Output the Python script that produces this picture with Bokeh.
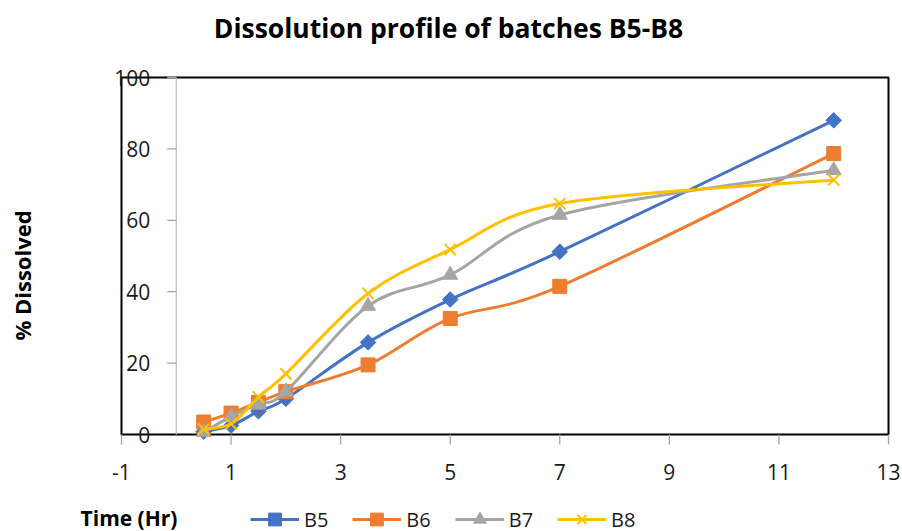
import numpy as np
from bokeh.plotting import figure
from bokeh.models import (Label, LabelSet, ColumnDataSource, Legend, LegendItem)
from bokeh.core.properties import value
from bokeh.embed import file_html
from bokeh.resources import INLINE

# ---- data ----
time_hr = [0.5, 1, 1.5, 2, 3.5, 5, 7, 12]
series_names = ["B5", "B6", "B7", "B8"]
b5 = [0.8, 2.5, 6.5, 10, 25.8, 37.8, 51.2, 88]
b6 = [3.5, 6, 9, 12, 19.5, 32.5, 41.5, 78.7]
b7 = [0.7, 5, 8.5, 12, 36, 44.7, 61.5, 74]
b8 = [1.5, 3, 10.5, 17, 39.5, 51.8, 64.7, 71.3]
x_ticks = [-1, 1, 3, 5, 7, 9, 11, 13]
y_ticks = [0, 20, 40, 60, 80, 100]
x_lim = (-1, 13)
y_lim = (0, 100)

colors = ["#4472C4", "#ED7D31", "#A5A5A5", "#FFC000"]
FONT = "Open Sans"

# ---- layout: where the chart box sits in the 902x531 canvas (pixels) ----
W, H = 902, 531
BOX_L, BOX_R, BOX_T, BOX_B = 121, 888, 77, 434
kx = (BOX_R - BOX_L) / (x_lim[1] - x_lim[0])
ky = (BOX_B - BOX_T) / (y_lim[1] - y_lim[0])
x_start = x_lim[0] - BOX_L / kx
y_start = y_lim[0] - (H - BOX_B) / ky

p = figure(width=W, height=H, output_backend="svg", toolbar_location=None,
           x_range=(x_start, x_start + W / kx), y_range=(y_start, y_start + H / ky),
           x_axis_location=None, y_axis_location=None, min_border=0)
p.title.visible = False
p.grid.visible = False
p.outline_line_color = None
p.background_fill_color = "white"
p.border_fill_color = "white"

# chart box
p.quad(left=[x_lim[0]], right=[x_lim[1]], bottom=[y_lim[0]], top=[y_lim[1]],
       fill_color=None, line_color="black", line_width=2)

# horizontal axis: ticks + labels
p.ray(x=x_ticks, y=[0] * len(x_ticks), length=10, length_units="screen",
      angle=-np.pi / 2, line_color="#A6A6A6", line_width=1.3)
xsrc = ColumnDataSource(dict(x=x_ticks, y=[0] * len(x_ticks), t=[str(v) for v in x_ticks]))
p.add_layout(LabelSet(x="x", y="y", text="t", source=xsrc, y_offset=-37,
                      text_align="center", text_baseline="middle",
                      text_font=value(FONT), text_font_size=value("21px"),
                      text_color="#1a1a1a"))

# vertical axis crossing at x = 0
p.segment(x0=[0], y0=[y_lim[0]], x1=[0], y1=[y_lim[1]], line_color="#BFBFBF", line_width=1.3)
p.ray(x=[0] * len(y_ticks[1:]), y=y_ticks[1:], length=9, length_units="screen",
      angle=np.pi, line_color="#A6A6A6", line_width=1.3)
ysrc = ColumnDataSource(dict(x=[0] * len(y_ticks), y=y_ticks, t=[str(v) for v in y_ticks]))
p.add_layout(LabelSet(x="x", y="y", text="t", source=ysrc, x_offset=-26,
                      text_align="right", text_baseline="middle",
                      text_font=value(FONT), text_font_size=value("21px"),
                      text_color="#1a1a1a"))


def smooth(xs, ys):
    xs = np.asarray(xs, float)
    ys = np.asarray(ys, float)
    px = np.concatenate([[xs[0]], xs, [xs[-1]]])
    py = np.concatenate([[ys[0]], ys, [ys[-1]]])
    x0, y0 = px[1:-2], py[1:-2]
    x1, y1 = px[2:-1], py[2:-1]
    cx0 = x0 + (px[2:-1] - px[0:-3]) / 6
    cy0 = y0 + (py[2:-1] - py[0:-3]) / 6
    cx1 = x1 - (px[3:] - px[1:-2]) / 6
    cy1 = y1 - (py[3:] - py[1:-2]) / 6
    return dict(x0=x0, y0=y0, x1=x1, y1=y1, cx0=cx0, cy0=cy0, cx1=cx1, cy1=cy1)


markers = [("square", 11, np.pi / 4), ("square", 14, 0), ("triangle", 15, 0), ("x", 16, 0)]
items = []
for name, vals, col, (mk, sz, ang) in zip(series_names, [b5, b6, b7, b8], colors, markers):
    br = p.bezier(source=ColumnDataSource(smooth(time_hr, vals)), x0="x0", y0="y0",
                  x1="x1", y1="y1", cx0="cx0", cy0="cy0", cx1="cx1", cy1="cy1",
                  line_color=col, line_width=3)
    sr = p.scatter(x=time_hr, y=vals, marker=mk, size=sz, angle=ang,
                   fill_color=col, line_color=col, line_width=2 if mk == "x" else 1)
    items.append(LegendItem(label=name, renderers=[br, sr]))

leg = Legend(items=items, location=(250, -4), orientation="horizontal",
             glyph_width=49, glyph_height=32, label_height=20, label_standoff=5,
             spacing=24, padding=0, margin=0, border_line_color=None,
             background_fill_alpha=0, label_text_font=FONT,
             label_text_font_size="20px", label_text_color="#1a1a1a")
p.add_layout(leg)

# title and axis titles
p.add_layout(Label(x=6, y=100, x_offset=-56.5, y_offset=50,
                   text="Dissolution profile of batches B5-B8", text_align="center",
                   text_baseline="middle", text_font=FONT, text_font_style="bold",
                   text_font_size="26.5px", text_color="black"))
p.add_layout(Label(x=-1, y=0, x_offset=7.5, y_offset=-83, text="Time (Hr)",
                   text_align="center", text_baseline="middle", text_font=FONT,
                   text_font_style="bold", text_font_size="21px", text_color="black"))
p.add_layout(Label(x=-1, y=0, x_offset=-100, y_offset=159, text="% Dissolved",
                   text_align="center", text_baseline="middle", angle=np.pi / 2,
                   text_font=FONT, text_font_style="bold", text_font_size="22px",
                   text_color="black"))

open("out.html", "w").write(file_html(p, INLINE))
